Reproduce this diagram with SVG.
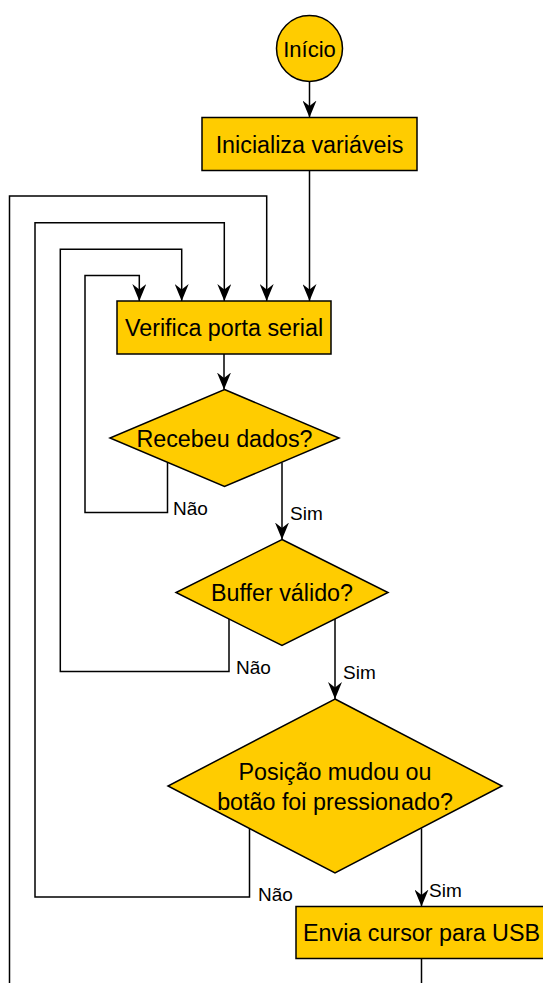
<svg xmlns="http://www.w3.org/2000/svg" width="543" height="983" viewBox="0 0 543 983">
<style>
.n{fill:#ffcc00;stroke:#000;stroke-width:1.5}
.t{font-family:"Liberation Sans",Arial,sans-serif;font-size:23.3px;fill:#000;text-anchor:middle}
.l{font-family:"Liberation Sans",Arial,sans-serif;font-size:19px;fill:#000}
.c{fill:none;stroke:#000;stroke-width:1.5}
.a{marker-end:url(#arr)}
</style>
<defs>
<marker id="arr" markerUnits="userSpaceOnUse" viewBox="0 0 17 14" markerWidth="17" markerHeight="14" refX="17" refY="7" orient="auto">
<path d="M0,0 L17,7 L0,14 L5.5,7 Z" fill="#000"/>
</marker>
</defs>
<rect width="543" height="983" fill="#fff"/>
<g id="connectors">
<path class="c a" d="M309.5,81.5 V117.5"/>
<path class="c a" d="M309.5,170.5 V301"/>
<path class="c a" d="M224,354 V389.5"/>
<path class="c a" d="M282,462.4 V539.5"/>
<path class="c a" d="M167.5,462.4 V512.5 H85 V275.5 H139.3 V301"/>
<path class="c a" d="M335,619 V699"/>
<path class="c a" d="M229,619 V671.5 H60.3 V249.3 H181.7 V301"/>
<path class="c a" d="M421.5,828.3 V906.5"/>
<path class="c a" d="M249.5,828.3 V897 H35 V222.7 H224.3 V301"/>
<path class="c a" d="M421.5,958.5 V990 M9.5,990 V196 H266.7 V301"/>
</g>
<g id="inicio">
<circle class="n" cx="309.5" cy="48.5" r="33"/>
<text class="t" x="309.5" y="56.5" style="font-size:22px">Início</text>
</g>
<g id="inicializa">
<rect class="n" x="202" y="117.5" width="215" height="53"/>
<text class="t" x="309.5" y="152.5">Inicializa variáveis</text>
</g>
<g id="verifica">
<rect class="n" x="117" y="301" width="214" height="53"/>
<text class="t" x="224" y="336">Verifica porta serial</text>
</g>
<g id="recebeu">
<polygon class="n" points="224.5,389.5 339,438 224.5,486.5 110,438"/>
<text class="t" x="224.5" y="446.5">Recebeu dados?</text>
</g>
<g id="buffer">
<polygon class="n" points="282,539.5 388,592.5 282,645.5 176,592.5"/>
<text class="t" x="282" y="601">Buffer válido?</text>
</g>
<g id="posicao">
<polygon class="n" points="335,699 502,786 335,873 168,786"/>
<text class="t" x="335" y="779.5">Posição mudou ou</text>
<text class="t" x="335" y="809.5">botão foi pressionado?</text>
</g>
<g id="envia">
<rect class="n" x="296" y="906.5" width="251" height="52"/>
<text class="t" x="421.5" y="941">Envia cursor para USB</text>
</g>
<g id="labels">
<text class="l" x="173" y="515">Não</text>
<text class="l" x="290" y="520">Sim</text>
<text class="l" x="236" y="674">Não</text>
<text class="l" x="343" y="679">Sim</text>
<text class="l" x="258" y="901">Não</text>
<text class="l" x="429" y="897">Sim</text>
</g>
</svg>
